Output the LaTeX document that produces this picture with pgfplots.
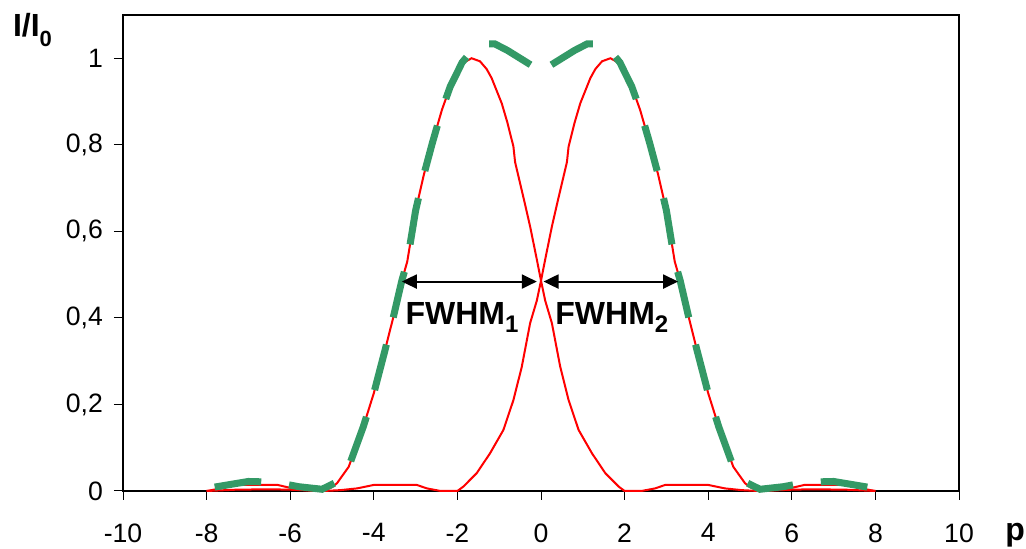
\documentclass[border=0pt]{standalone}
\usepackage{fontspec}
\setmainfont{Liberation Sans}
\usepackage{pgfplots}
\usepackage{pgfplotstable}
\pgfplotsset{compat=1.18}
\usetikzlibrary{arrows.meta}
\definecolor{exgreen}{RGB}{51,153,102}
\newcommand{\tickfont}{\fontsize{13.3}{15}\selectfont}

\pgfplotstableread{
x y
-8.0 0.000
-7.6 0.007
-7.3 0.014
-6.3 0.014
-5.9 0.005
-5.5 0.001
-5.2 0.000
-5.0 0.009
-4.88 0.018
-4.6 0.056
-4.25 0.149
-4.0 0.226
-3.73 0.326
-3.53 0.403
-3.33 0.486
-3.2 0.530
-3.0 0.648
-2.8 0.732
-2.6 0.804
-2.37 0.881
-2.17 0.935
-2.0 0.968
-1.85 0.990
-1.66 1.000
-1.46 0.993
-1.3 0.975
-1.18 0.954
-0.94 0.896
-0.8 0.850
-0.66 0.796
-0.62 0.760
-0.4 0.670
-0.26 0.611
-0.1 0.535
0 0.486
0.1 0.440
0.26 0.388
0.46 0.287
0.66 0.210
0.9 0.141
1.22 0.087
1.54 0.041
1.86 0.010
2.0 0.000
2.4 0.000
2.73 0.006
2.97 0.014
4.0 0.014
4.4 0.006
4.8 0.002
5.2 0.000
5.5 0.001
6.0 0.003
6.5 0.004
7.3 0.003
8.0 0.000
}\leftcurve

\pgfplotstableread{
x y
-8.0 0.000
-7.3 0.003
-6.5 0.004
-6.0 0.003
-5.5 0.001
-5.2 0.000
-4.8 0.002
-4.4 0.006
-4.0 0.014
-2.97 0.014
-2.73 0.006
-2.4 0.000
-2.0 0.000
-1.86 0.010
-1.54 0.041
-1.22 0.087
-0.9 0.141
-0.66 0.210
-0.46 0.287
-0.26 0.388
-0.1 0.440
0 0.486
0.1 0.535
0.26 0.611
0.4 0.670
0.62 0.760
0.66 0.796
0.8 0.850
0.94 0.896
1.18 0.954
1.3 0.975
1.46 0.993
1.66 1.000
1.85 0.990
2.0 0.968
2.17 0.935
2.37 0.881
2.6 0.804
2.8 0.732
3.0 0.648
3.2 0.530
3.33 0.486
3.53 0.403
3.73 0.326
4.0 0.226
4.25 0.149
4.6 0.056
4.88 0.018
5.0 0.009
5.2 0.000
5.5 0.001
5.9 0.005
6.3 0.014
7.3 0.014
7.6 0.007
8.0 0.000
}\rightcurve

\pgfplotstableread{
x y
-0.25 0.985
-0.5 1.000
-0.8 1.018
-1.1 1.033
-1.45 1.033
-1.65 1.018
-1.89 0.990
-2.0 0.968
-2.17 0.935
-2.37 0.881
-2.6 0.804
-2.8 0.732
-3.0 0.648
-3.2 0.530
-3.33 0.486
-3.53 0.403
-3.73 0.326
-4.0 0.226
-4.25 0.149
-4.6 0.056
-4.9 0.020
-5.24 0.004
-5.8 0.010
-6.24 0.018
-6.6 0.021
-7.0 0.022
-7.5 0.014
-8.0 0.006
}\greenleft

\pgfplotstableread{
x y
0.25 0.985
0.5 1.000
0.8 1.018
1.1 1.033
1.45 1.033
1.65 1.018
1.89 0.990
2.0 0.968
2.17 0.935
2.37 0.881
2.6 0.804
2.8 0.732
3.0 0.648
3.2 0.530
3.33 0.486
3.53 0.403
3.73 0.326
4.0 0.226
4.25 0.149
4.6 0.056
4.9 0.020
5.24 0.004
5.8 0.010
6.24 0.018
6.6 0.021
7.0 0.022
7.5 0.014
8.0 0.006
}\greenright

\begin{document}
\begin{tikzpicture}
\useasboundingbox (-61.5pt,-29pt) rectangle (451.5pt,245.5pt);
\begin{axis}[
  at={(0,0)}, anchor=south west,
  scale only axis, width=418pt, height=238pt,
  xmin=-10, xmax=10, ymin=0, ymax=1.1,
  xtick={-10,-8,-6,-4,-2,0,2,4,6,8,10},
  ytick={0,0.2,0.4,0.6,0.8,1},
  tick pos=left,
  tick align=outside,
  major tick length=4.5pt,
  axis line style={line width=1pt},
  every tick/.style={black, line width=0.5pt},
  /pgf/number format/assume math mode=true,
  /pgf/number format/use comma,
  yticklabel style={font=\tickfont, xshift=-2pt},
  xticklabel style={font=\tickfont, yshift=-8.2pt},
  clip=false,
]
\addplot[red, line width=1pt, no markers, sharp plot] table[x=x,y=y] {\leftcurve};
\addplot[red, line width=1pt, no markers, sharp plot] table[x=x,y=y] {\rightcurve};
\addplot[exgreen, line width=3.5pt, no markers, sharp plot, dash pattern=on 23.5pt off 14pt] table[x=x,y=y] {\greenleft};
\addplot[exgreen, line width=3.5pt, no markers, sharp plot, dash pattern=on 23.5pt off 14pt] table[x=x,y=y] {\greenright};

\draw[line width=1pt, {Triangle[length=7.5pt,width=7pt]}-{Triangle[length=7.5pt,width=7pt]}] (axis cs:-3.33,0.484) -- (axis cs:-0.10,0.484);
\draw[line width=1pt, {Triangle[length=7.5pt,width=7pt]}-{Triangle[length=7.5pt,width=7pt]}] (axis cs:0.06,0.484) -- (axis cs:3.28,0.484);

\node[anchor=base west, inner sep=0, font=\fontsize{16}{18}\selectfont\bfseries] at (axis cs:-3.25,0.384) {FWHM\raisebox{-4pt}{\fontsize{12}{13}\selectfont 1}};
\node[anchor=base west, inner sep=0, font=\fontsize{16}{18}\selectfont\bfseries] at (axis cs:0.335,0.384) {FWHM\raisebox{-4pt}{\fontsize{12}{13}\selectfont 2}};

\node[anchor=base west, inner sep=0, font=\fontsize{16}{18}\selectfont\bfseries] at (axis cs:-12.64,1.05) {I/I\raisebox{-5pt}{\fontsize{11}{12}\selectfont 0}};
\node[anchor=base west, inner sep=0, font=\fontsize{16}{18}\selectfont\bfseries] at (axis cs:11.1,-0.115) {p};
\end{axis}
\end{tikzpicture}
\end{document}
